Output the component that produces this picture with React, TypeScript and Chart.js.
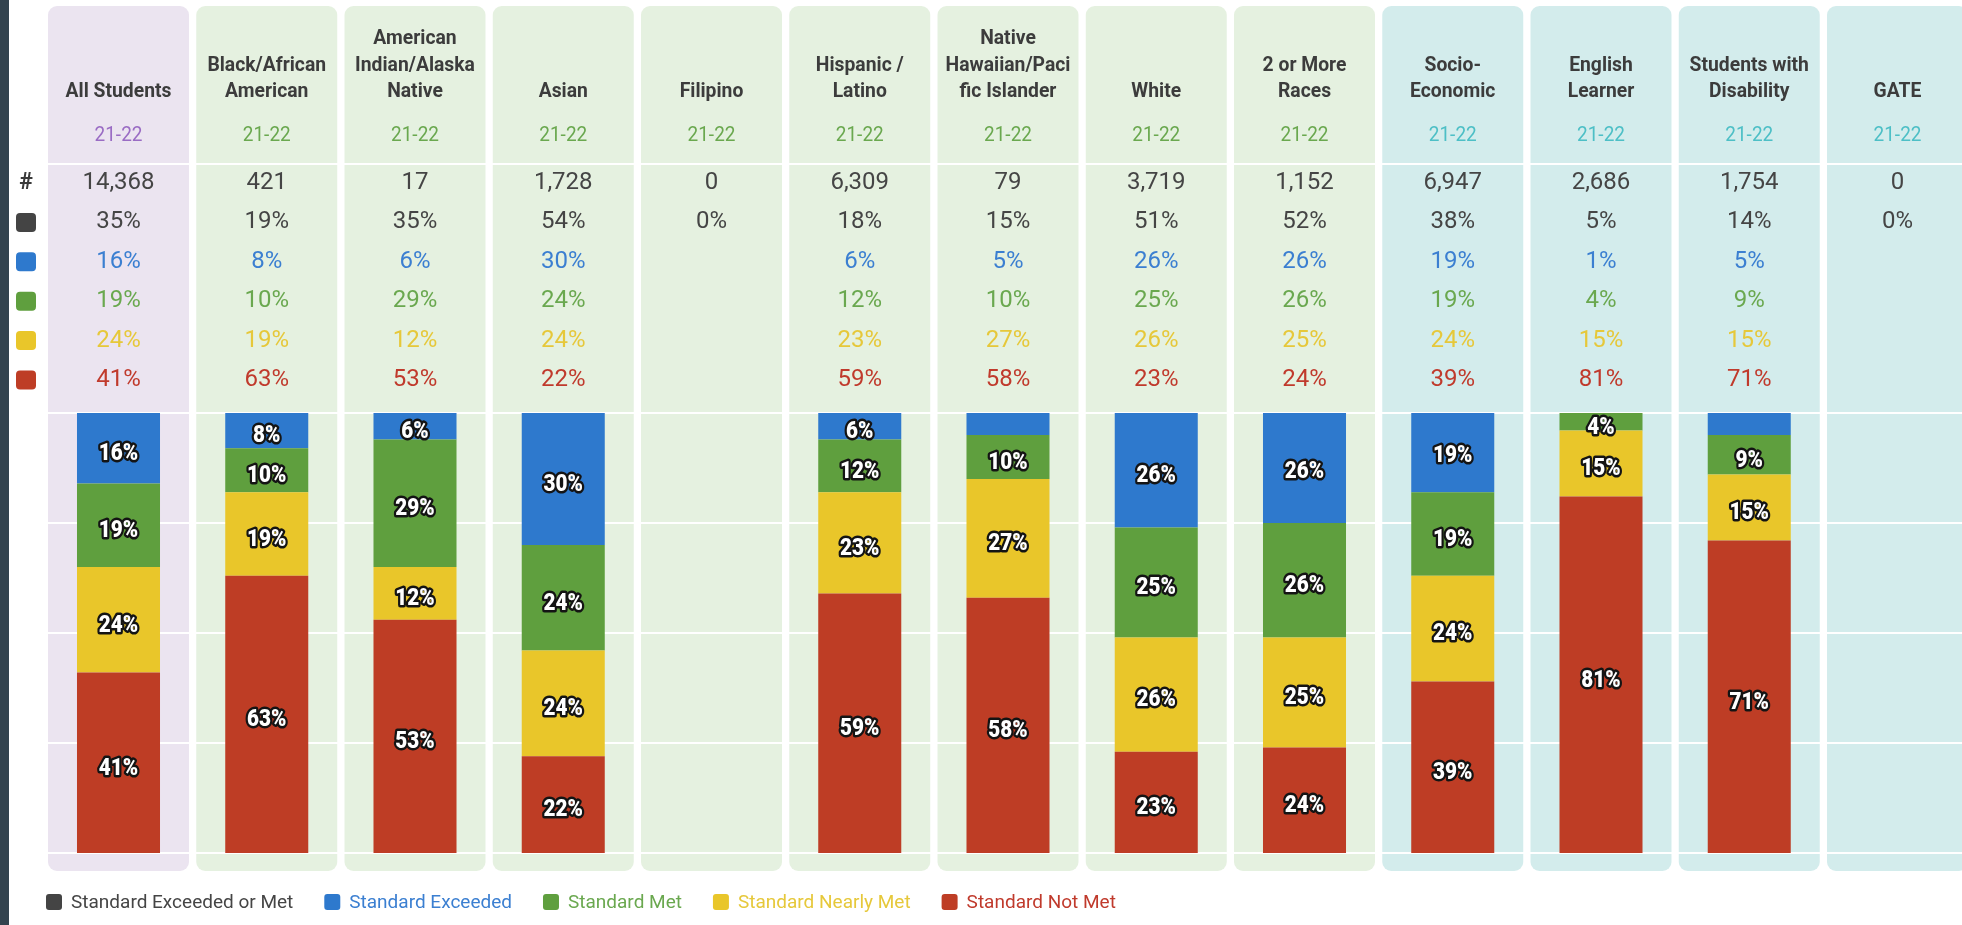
import React, { useEffect, useRef } from "react";
import { Chart, registerables } from "chart.js";
Chart.register(...registerables);

// ---------- DATA ----------
const categories: string[][] = [
  ["All Students"],
  ["Black/African", "American"],
  ["American", "Indian/Alaska", "Native"],
  ["Asian"],
  ["Filipino"],
  ["Hispanic /", "Latino"],
  ["Native", "Hawaiian/Paci", "fic Islander"],
  ["White"],
  ["2 or More", "Races"],
  ["Socio-", "Economic"],
  ["English", "Learner"],
  ["Students with", "Disability"],
  ["GATE"],
];
const years = ["21-22", "21-22", "21-22", "21-22", "21-22", "21-22", "21-22", "21-22", "21-22", "21-22", "21-22", "21-22", "21-22"];
const groups = ["all", "eth", "eth", "eth", "eth", "eth", "eth", "eth", "eth", "sub", "sub", "sub", "sub"];
const counts = [14368, 421, 17, 1728, 0, 6309, 79, 3719, 1152, 6947, 2686, 1754, 0];
const exceededOrMet = [35, 19, 35, 54, 0, 18, 15, 51, 52, 38, 5, 14, 0];
const exceeded = [16, 8, 6, 30, null, 6, 5, 26, 26, 19, 1, 5, null];
const met = [19, 10, 29, 24, null, 12, 10, 25, 26, 19, 4, 9, null];
const nearlyMet = [24, 19, 12, 24, null, 23, 27, 26, 25, 24, 15, 15, null];
const notMet = [41, 63, 53, 22, null, 59, 58, 23, 24, 39, 81, 71, null];
const yTicks = [0, 25, 50, 75, 100];
const legendLabels = ["Standard Exceeded or Met", "Standard Exceeded", "Standard Met", "Standard Nearly Met", "Standard Not Met"];

// ---------- STYLE ----------
const BAR = { dark: "#444444", blue: "#2e79cd", green: "#5f9f3e", yellow: "#e9c62a", red: "#be3d25" };
const TXT = { dark: "#454545", blue: "#3b7fd1", green: "#6aa84f", yellow: "#e6c83a", red: "#c03a2c" };
const PANEL: Record<string, string> = { all: "#ebe4f0", eth: "#e5f1e0", sub: "#d3ecec" };
const YEARC: Record<string, string> = { all: "#9a6cc4", eth: "#6aa84f", sub: "#4dbfc6" };
const W = 1990;
const H = 925;

const fmt = (v: number) => v.toLocaleString("en-US");

function squeezeText(ctx: any, s: string, x: number, y: number, sx: number, stroke = false) {
  ctx.save();
  ctx.translate(x, y);
  ctx.scale(sx, 1);
  if (stroke) ctx.strokeText(s, 0, 0);
  ctx.fillText(s, 0, 0);
  ctx.restore();
}

const tablePlugin = {
  id: "tablePlugin",
  beforeDraw(chart: any) {
    const ctx = chart.ctx;
    const xs = chart.scales.x;
    const ys = chart.scales.y;
    const area = chart.chartArea;
    ctx.save();
    ctx.fillStyle = "#ffffff";
    ctx.fillRect(0, 0, W, H);
    ctx.fillStyle = "#33434e";
    ctx.fillRect(0, 0, 9, H);
    const pitch = xs.getPixelForValue(1) - xs.getPixelForValue(0);
    const half = pitch * 0.4755;
    categories.forEach((_, i) => {
      const cx = xs.getPixelForValue(i);
      ctx.fillStyle = PANEL[groups[i]];
      ctx.beginPath();
      ctx.roundRect(cx - half, 6, half * 2, 865, 9);
      ctx.fill();
    });
    // header separator
    ctx.strokeStyle = "#ffffff";
    ctx.lineWidth = 2;
    ctx.beginPath();
    ctx.moveTo(area.left, 164);
    ctx.lineTo(W, 164);
    ctx.stroke();
    // grid lines
    yTicks.forEach((t) => {
      const y = ys.getPixelForValue(t);
      ctx.beginPath();
      ctx.moveTo(area.left, y);
      ctx.lineTo(area.right, y);
      ctx.stroke();
    });
    // header text
    ctx.textAlign = "center";
    ctx.textBaseline = "middle";
    categories.forEach((lines, i) => {
      const cx = xs.getPixelForValue(i);
      ctx.fillStyle = "#3c3c3c";
      ctx.font = "bold 21px Roboto";
      const n = lines.length;
      lines.forEach((ln, k) => {
        squeezeText(ctx, ln, cx, 92 - (n - 1 - k) * 26.5, 0.92);
      });
      ctx.font = "20px Roboto";
      ctx.fillStyle = YEARC[groups[i]];
      squeezeText(ctx, years[i], cx, 136, 0.95);
      // stats
      const rowY = (r: number) => 183 + r * 39.4;
      ctx.font = "24px Roboto";
      ctx.fillStyle = TXT.dark;
      ctx.fillText(fmt(counts[i]), cx, rowY(0));
      const rows: [any, string][] = [
        [exceededOrMet[i], TXT.dark],
        [exceeded[i], TXT.blue],
        [met[i], TXT.green],
        [nearlyMet[i], TXT.yellow],
        [notMet[i], TXT.red],
      ];
      rows.forEach(([v, c], r) => {
        if (v === null || v === undefined) return;
        ctx.fillStyle = c;
        ctx.fillText(v + "%", cx, rowY(r + 1));
      });
    });
    // left icons
    ctx.fillStyle = "#3a3a3a";
    ctx.font = "bold 23px Roboto";
    ctx.fillText("#", 26, 183);
    const iconColors = [BAR.dark, BAR.blue, BAR.green, BAR.yellow, BAR.red];
    iconColors.forEach((c, r) => {
      const y = 183 + (r + 1) * 39.4;
      ctx.fillStyle = c;
      ctx.beginPath();
      ctx.roundRect(16, y - 9.5, 20, 19, 4);
      ctx.fill();
    });
    ctx.restore();
  },
  afterDatasetsDraw(chart: any) {
    const ctx = chart.ctx;
    ctx.save();
    ctx.font = "900 23px Roboto";
    ctx.textAlign = "center";
    ctx.textBaseline = "middle";
    ctx.lineJoin = "round";
    ctx.strokeStyle = "#141414";
    ctx.lineWidth = 5;
    ctx.fillStyle = "#ffffff";
    chart.data.datasets.forEach((ds: any, d: number) => {
      const meta = chart.getDatasetMeta(d);
      meta.data.forEach((el: any, i: number) => {
        const v = ds.data[i];
        if (v === null || v === undefined) return;
        if (ds.key === "exceeded" && v <= 5) return;
        const cx = el.x;
        const cy = (el.y + el.base) / 2 + 6;
        squeezeText(ctx, v + "%", cx, cy, 0.9, true);
      });
    });
    ctx.restore();
  },
  afterDraw(chart: any) {
    const ctx = chart.ctx;
    ctx.save();
    ctx.font = "19px Roboto";
    ctx.textBaseline = "middle";
    ctx.textAlign = "left";
    const sq = [BAR.dark, BAR.blue, BAR.green, BAR.yellow, BAR.red];
    const tc = [TXT.dark, TXT.blue, TXT.green, TXT.yellow, TXT.red];
    let x = 46;
    const y = 902;
    legendLabels.forEach((lbl, k) => {
      ctx.fillStyle = sq[k];
      ctx.beginPath();
      ctx.roundRect(x, y - 8, 16, 16, 3);
      ctx.fill();
      ctx.fillStyle = tc[k];
      ctx.fillText(lbl, x + 25, y + 1);
      x += 25 + ctx.measureText(lbl).width + 31;
    });
    ctx.restore();
  },
};

export default function App() {
  const ref = useRef<HTMLCanvasElement | null>(null);
  useEffect(() => {
    document.body.style.margin = "0";
    const canvas = ref.current!;
    const left = 44.375;
    const right = W - 1971.625;
    const chart = new Chart(canvas, {
      type: "bar",
      data: {
        labels: categories.map((c) => c.join(" ")),
        datasets: [
          { key: "notMet", label: legendLabels[4], data: notMet, backgroundColor: BAR.red },
          { key: "nearlyMet", label: legendLabels[3], data: nearlyMet, backgroundColor: BAR.yellow },
          { key: "met", label: legendLabels[2], data: met, backgroundColor: BAR.green },
          { key: "exceeded", label: legendLabels[1], data: exceeded, backgroundColor: BAR.blue },
        ] as any,
      },
      options: {
        responsive: false,
        animation: false,
        devicePixelRatio: 1,
        layout: { padding: { left, right, top: 413, bottom: H - 853 } },
        datasets: { bar: { categoryPercentage: 1, barPercentage: 0.56, borderWidth: 0 } },
        scales: {
          x: { stacked: true, display: false },
          y: { stacked: true, display: false, min: 0, max: 100 },
        },
        plugins: { legend: { display: false }, tooltip: { enabled: false } },
      },
      plugins: [tablePlugin],
    });
    return () => chart.destroy();
  }, []);
  return (
    <div style={{ position: "fixed", left: 0, top: 0, width: 1962, height: H, overflow: "hidden", background: "#fff" }}>
      <canvas ref={ref} width={W} height={H} style={{ display: "block", width: W, height: H }} />
    </div>
  );
}
